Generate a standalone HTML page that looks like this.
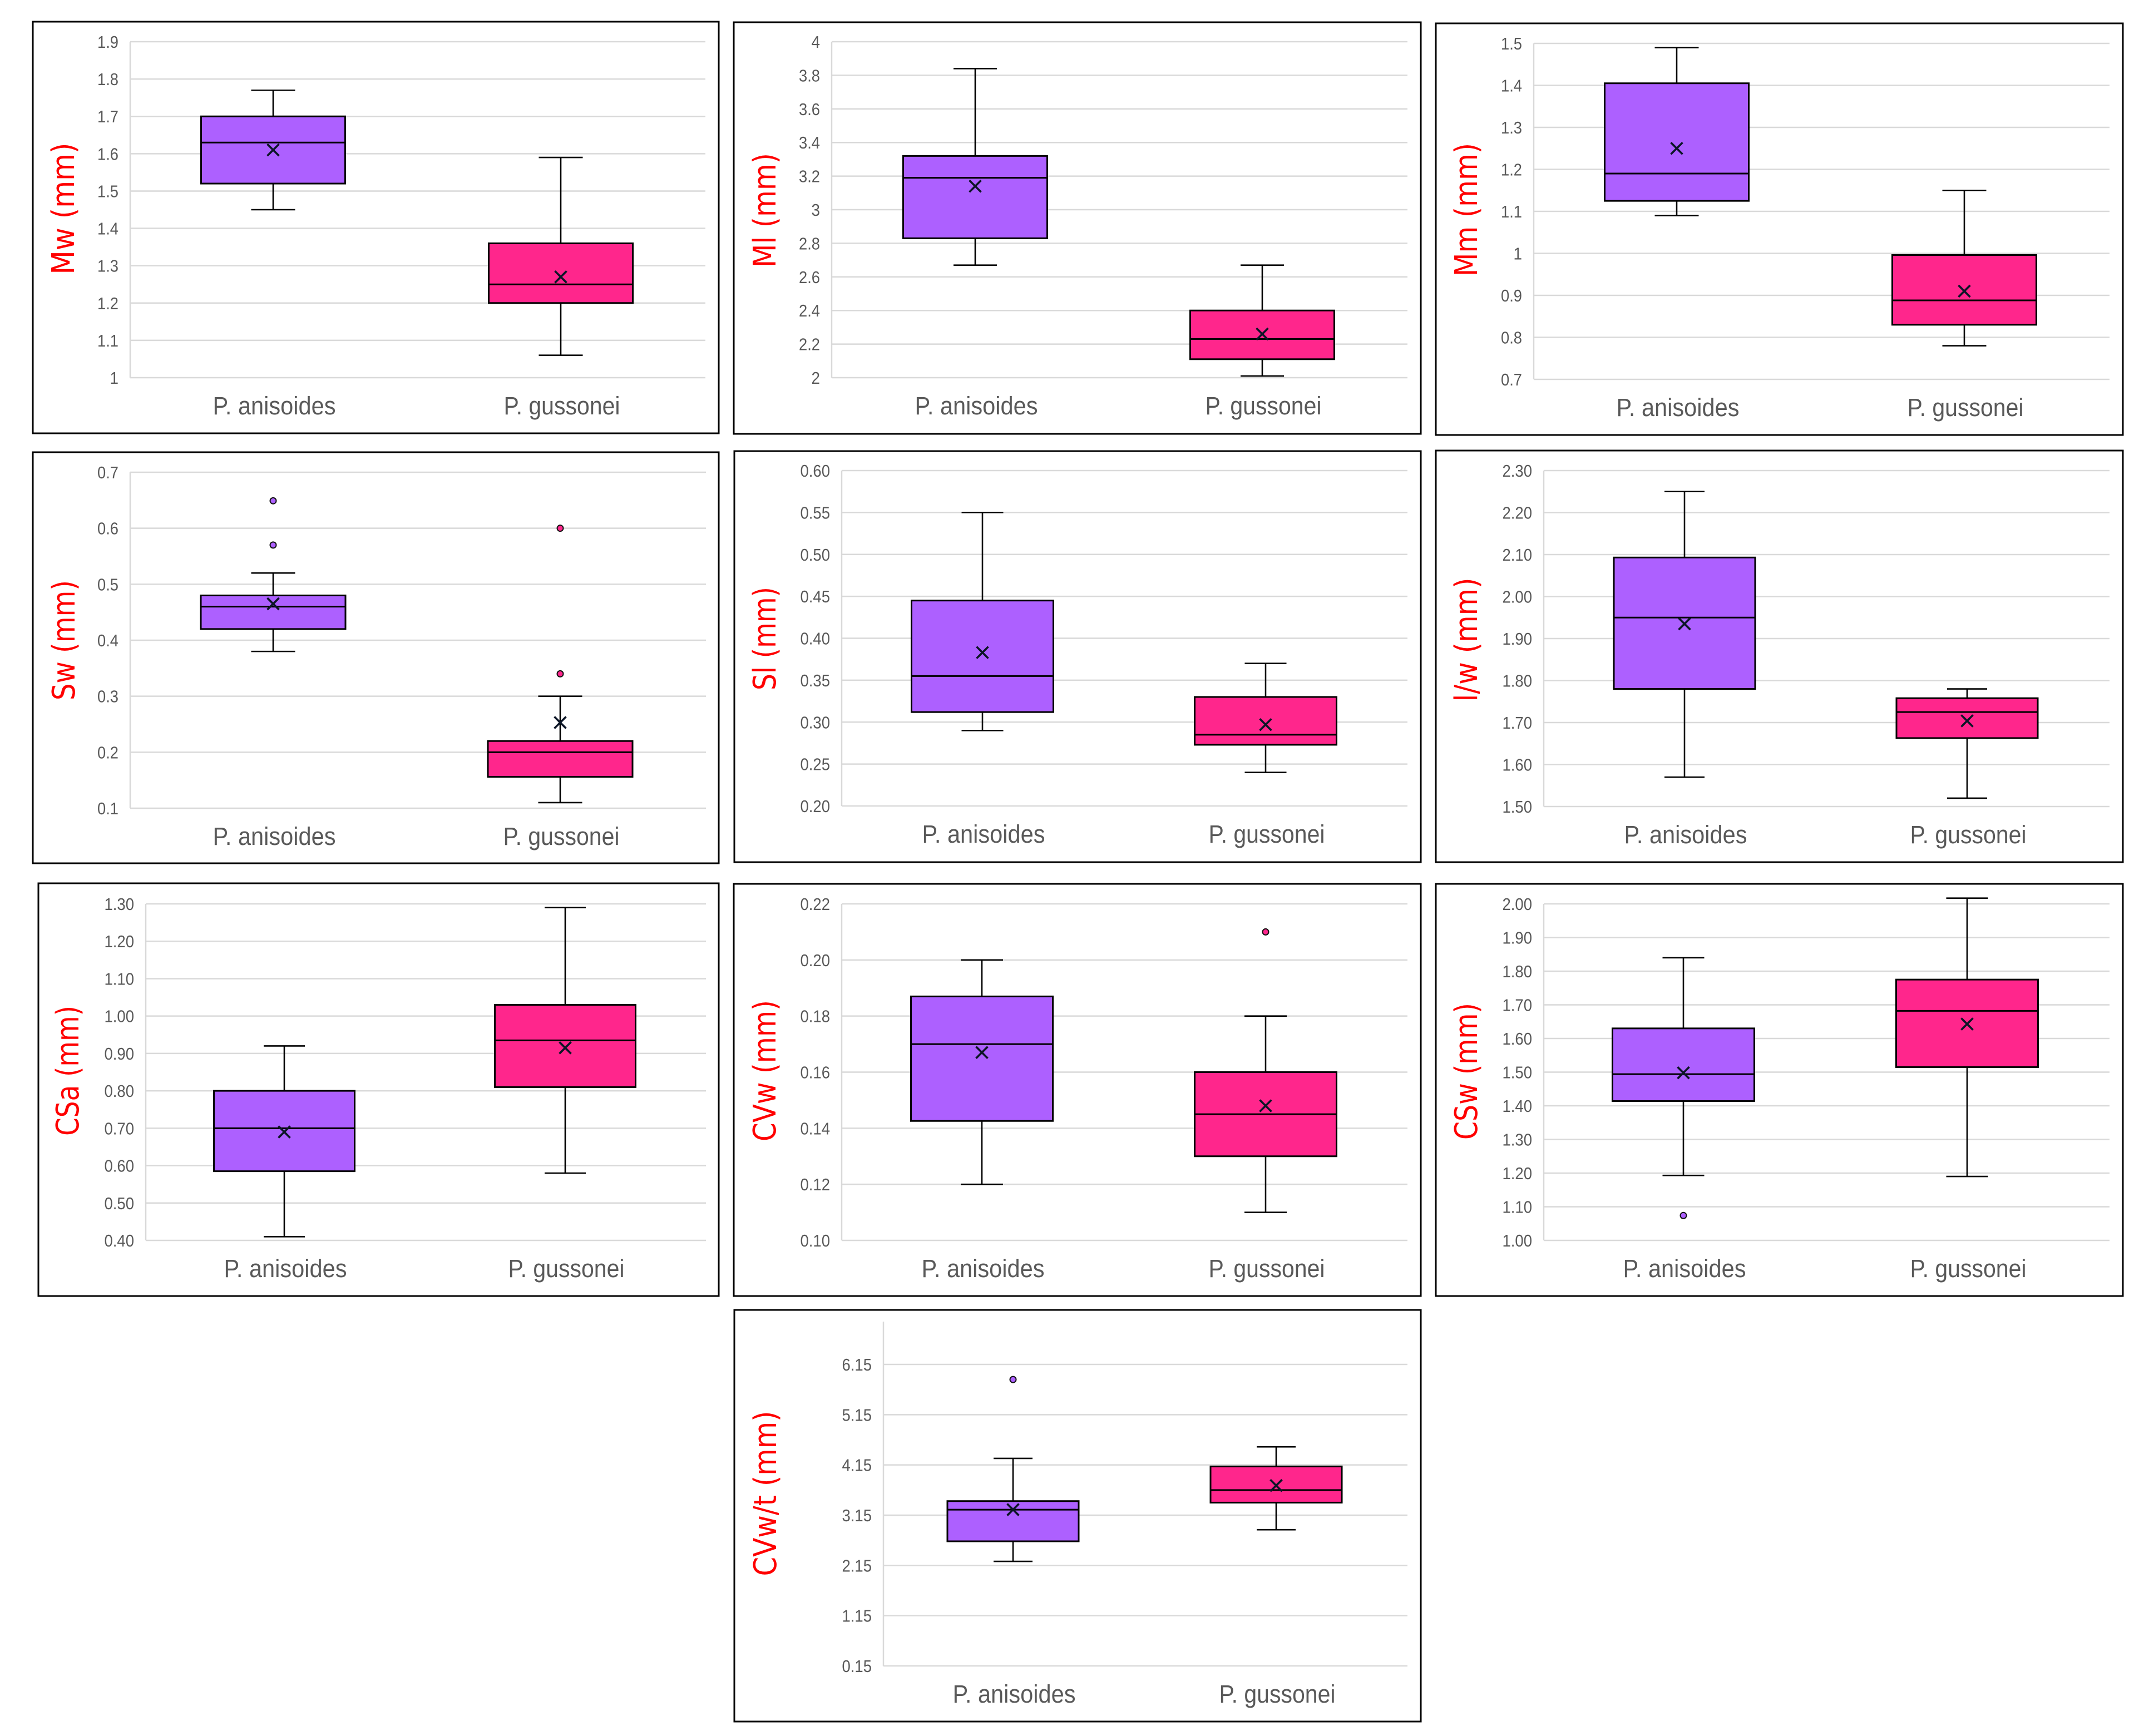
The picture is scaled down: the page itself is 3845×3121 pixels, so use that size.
<!DOCTYPE html>
<html lang="en">
<head>
<meta charset="utf-8">
<title>Box plots of P. anisoides and P. gussonei measurements</title>
<style>
html,body{margin:0;padding:0;background:#fff;}
svg{display:block;}
.tick{font-family:"Liberation Sans",sans-serif;font-size:31px;fill:#595959;text-anchor:end;}
.cat{font-family:"Liberation Sans",sans-serif;font-size:45px;fill:#595959;text-anchor:middle;}
.ytitle{font-family:"DejaVu Sans",sans-serif;font-size:56px;fill:#ff0000;text-anchor:middle;}
</style>
</head>
<body>
<svg id="figure" xmlns="http://www.w3.org/2000/svg" width="3845" height="3121" viewBox="0 0 3845 3121"></svg>
<script>
// Shared categories
const categories = ['P. anisoides', 'P. gussonei'];

// Each series reads: [min, q1, median, q3, max, mean]
const mwTicks = ['1', '1.1', '1.2', '1.3', '1.4', '1.5', '1.6', '1.7', '1.8', '1.9'];
const mwAnisoides = [1.45, 1.52, 1.63, 1.70, 1.77, 1.61];
const mwGussonei = [1.06, 1.20, 1.25, 1.36, 1.59, 1.27];
const mwOutliersAnisoides = [];
const mwOutliersGussonei = [];

const mlTicks = ['2', '2.2', '2.4', '2.6', '2.8', '3', '3.2', '3.4', '3.6', '3.8', '4'];
const mlAnisoides = [2.67, 2.83, 3.19, 3.32, 3.84, 3.14];
const mlGussonei = [2.01, 2.11, 2.23, 2.40, 2.67, 2.26];
const mlOutliersAnisoides = [];
const mlOutliersGussonei = [];

const mmTicks = ['0.7', '0.8', '0.9', '1', '1.1', '1.2', '1.3', '1.4', '1.5'];
const mmAnisoides = [1.09, 1.125, 1.19, 1.405, 1.49, 1.25];
const mmGussonei = [0.78, 0.83, 0.888, 0.996, 1.15, 0.91];
const mmOutliersAnisoides = [];
const mmOutliersGussonei = [];

const swTicks = ['0.1', '0.2', '0.3', '0.4', '0.5', '0.6', '0.7'];
const swAnisoides = [0.38, 0.42, 0.46, 0.48, 0.52, 0.465];
const swGussonei = [0.11, 0.156, 0.20, 0.22, 0.30, 0.253];
const swOutliersAnisoides = [0.649, 0.57];
const swOutliersGussonei = [0.60, 0.34];

const slTicks = ['0.20', '0.25', '0.30', '0.35', '0.40', '0.45', '0.50', '0.55', '0.60'];
const slAnisoides = [0.29, 0.312, 0.355, 0.445, 0.55, 0.383];
const slGussonei = [0.24, 0.273, 0.285, 0.33, 0.37, 0.297];
const slOutliersAnisoides = [];
const slOutliersGussonei = [];

const lwTicks = ['1.50', '1.60', '1.70', '1.80', '1.90', '2.00', '2.10', '2.20', '2.30'];
const lwAnisoides = [1.57, 1.78, 1.95, 2.093, 2.25, 1.935];
const lwGussonei = [1.52, 1.663, 1.725, 1.758, 1.78, 1.704];
const lwOutliersAnisoides = [];
const lwOutliersGussonei = [];

const csaTicks = ['0.40', '0.50', '0.60', '0.70', '0.80', '0.90', '1.00', '1.10', '1.20', '1.30'];
const csaAnisoides = [0.41, 0.585, 0.70, 0.80, 0.92, 0.69];
const csaGussonei = [0.58, 0.81, 0.935, 1.03, 1.29, 0.915];
const csaOutliersAnisoides = [];
const csaOutliersGussonei = [];

const cvwTicks = ['0.10', '0.12', '0.14', '0.16', '0.18', '0.20', '0.22'];
const cvwAnisoides = [0.12, 0.1426, 0.17, 0.187, 0.20, 0.167];
const cvwGussonei = [0.11, 0.13, 0.145, 0.16, 0.18, 0.148];
const cvwOutliersAnisoides = [];
const cvwOutliersGussonei = [0.21];

const cswTicks = ['1.00', '1.10', '1.20', '1.30', '1.40', '1.50', '1.60', '1.70', '1.80', '1.90', '2.00'];
const cswAnisoides = [1.193, 1.414, 1.494, 1.63, 1.84, 1.498];
const cswGussonei = [1.19, 1.515, 1.682, 1.775, 2.017, 1.643];
const cswOutliersAnisoides = [1.074];
const cswOutliersGussonei = [];

const cvwtTicks = ['0.15', '1.15', '2.15', '3.15', '4.15', '5.15', '6.15'];
const cvwtAnisoides = [2.23, 2.63, 3.26, 3.43, 4.28, 3.26];
const cvwtGussonei = [2.86, 3.40, 3.65, 4.12, 4.51, 3.74];
const cvwtOutliersAnisoides = [5.85];
const cvwtOutliersGussonei = [];

// Panel definitions: data references plus page layout
const panels = [
  {id:'mw', title:'Mw (mm)', ticks:mwTicks, series:[mwAnisoides, mwGussonei], outliers:[mwOutliersAnisoides, mwOutliersGussonei],
   frame:[59,39,1292,779], plot:[234,1268,75,679], axisTop:75, centers:[491,1008], boxW:259, capW:79, titleBox:[133,375,237]},
  {id:'ml', title:'Ml (mm)', ticks:mlTicks, series:[mlAnisoides, mlGussonei], outliers:[mlOutliersAnisoides, mlOutliersGussonei],
   frame:[1319,40,2554,780], plot:[1495,2530,75,679], axisTop:75, centers:[1753,2269], boxW:259, capW:78, titleBox:[1394,378,206]},
  {id:'mm', title:'Mm (mm)', ticks:mmTicks, series:[mmAnisoides, mmGussonei], outliers:[mmOutliersAnisoides, mmOutliersGussonei],
   frame:[2581,42,3816,782], plot:[2757,3792,78,682], axisTop:78, centers:[3014,3531], boxW:259, capW:79, titleBox:[2655,377,240]},
  {id:'sw', title:'Sw (mm)', ticks:swTicks, series:[swAnisoides, swGussonei], outliers:[swOutliersAnisoides, swOutliersGussonei],
   frame:[59,813,1292,1552], plot:[234,1269,849,1453], axisTop:849, centers:[491,1007], boxW:260, capW:79, titleBox:[134,1151,216]},
  {id:'sl', title:'Sl (mm)', ticks:slTicks, series:[slAnisoides, slGussonei], outliers:[slOutliersAnisoides, slOutliersGussonei],
   frame:[1320,811,2554,1550], plot:[1513,2530,846,1449], axisTop:846, centers:[1766,2275], boxW:255, capW:75, titleBox:[1394,1148,186]},
  {id:'lw', title:'l/w (mm)', ticks:lwTicks, series:[lwAnisoides, lwGussonei], outliers:[lwOutliersAnisoides, lwOutliersGussonei],
   frame:[2581,810,3816,1550], plot:[2775,3792,846,1450], axisTop:846, centers:[3028,3536], boxW:254, capW:72, titleBox:[2655,1150,223]},
  {id:'csa', title:'CSa (mm)', ticks:csaTicks, series:[csaAnisoides, csaGussonei], outliers:[csaOutliersAnisoides, csaOutliersGussonei],
   frame:[69,1588,1292,2330], plot:[262,1269,1625,2230], axisTop:1625, centers:[511,1016], boxW:253, capW:74, titleBox:[141,1925,234]},
  {id:'cvw', title:'CVw (mm)', ticks:cvwTicks, series:[cvwAnisoides, cvwGussonei], outliers:[cvwOutliersAnisoides, cvwOutliersGussonei],
   frame:[1319,1589,2554,2330], plot:[1513,2530,1625,2230], axisTop:1625, centers:[1765,2275], boxW:255, capW:76, titleBox:[1394,1925,254]},
  {id:'csw', title:'CSw (mm)', ticks:cswTicks, series:[cswAnisoides, cswGussonei], outliers:[cswOutliersAnisoides, cswOutliersGussonei],
   frame:[2581,1589,3816,2330], plot:[2775,3792,1625,2230], axisTop:1625, centers:[3026,3536], boxW:255, capW:75, titleBox:[2655,1926,246]},
  {id:'cvwt', title:'CVw/t (mm)', ticks:cvwtTicks, series:[cvwtAnisoides, cvwtGussonei], outliers:[cvwtOutliersAnisoides, cvwtOutliersGussonei],
   frame:[1320,2355,2554,3095], plot:[1588,2530,2453,2995], axisTop:2376, centers:[1821,2294], boxW:236, capW:70, titleBox:[1395,2685,297]}
];

const seriesFills = ['#ad60ff', '#ff268c'];
const categoryWidths = [221, 209];
const gridColor = '#d9d9d9';
const SVG_NS = 'http://www.w3.org/2000/svg';
const figure = document.getElementById('figure');

function make(tag, parent, attrs) {
  const el = document.createElementNS(SVG_NS, tag);
  for (const k in attrs) el.setAttribute(k, attrs[k]);
  parent.appendChild(el);
  return el;
}

function makeYScale(panel) {
  const t0 = parseFloat(panel.ticks[0]);
  const t1 = parseFloat(panel.ticks[panel.ticks.length - 1]);
  const top = panel.plot[2];
  const bottom = panel.plot[3];
  return function (v) { return bottom + (v - t0) / (t1 - t0) * (top - bottom); };
}

function tickLabelWidth(label) {
  const digits = label.replace('.', '').length;
  const dots = label.length - digits;
  return digits * 15.5 + dots * 7;
}

function drawPanel(panel) {
  const y = makeYScale(panel);
  const left = panel.plot[0];
  const right = panel.plot[1];
  const bottom = panel.plot[3];

  const g = make('g', figure, {});
  
  

  const frame = make('rect', g, {x:panel.frame[0], y:panel.frame[1], width:panel.frame[2]-panel.frame[0], height:panel.frame[3]-panel.frame[1], fill:'#fff', stroke:'#000', 'stroke-width':3});
  
  

  const axis = make('line', g, {x1:left, x2:left, y1:panel.axisTop, y2:bottom, stroke:gridColor, 'stroke-width':2.5});
  
  

  panel.ticks.forEach(function (label) {
    const v = parseFloat(label);
    const grid = make('line', g, {x1:left, x2:right, y1:y(v), y2:y(v), stroke:gridColor, 'stroke-width':2.5});
    
    
    const tick = make('text', g, {x:left-21, y:y(v)+11, class:'tick', textLength:tickLabelWidth(label), lengthAdjust:'spacingAndGlyphs'});
    
    
    tick.textContent = label;
  });

  const tb = panel.titleBox;
  const title = make('text', g, {x:0, y:0, class:'ytitle', transform:'translate(' + tb[0] + ' ' + tb[1] + ') rotate(-90)', textLength:tb[2], lengthAdjust:'spacingAndGlyphs'});
  
  
  title.textContent = panel.title;

  categories.forEach(function (cat, i) {
    const cx = panel.centers[i];
    const s = panel.series[i];
    const halfBox = panel.boxW / 2;
    const halfCap = panel.capW / 2;

    const upper = make('line', g, {x1:cx, x2:cx, y1:y(s[4]), y2:y(s[3]), stroke:'#000', 'stroke-width':2.6});
    
    

    const lower = make('line', g, {x1:cx, x2:cx, y1:y(s[1]), y2:y(s[0]), stroke:'#000', 'stroke-width':2.6});
    
    

    const capTop = make('line', g, {x1:cx-halfCap, x2:cx+halfCap, y1:y(s[4]), y2:y(s[4]), stroke:'#000', 'stroke-width':2.6});
    
    

    const capBottom = make('line', g, {x1:cx-halfCap, x2:cx+halfCap, y1:y(s[0]), y2:y(s[0]), stroke:'#000', 'stroke-width':2.6});
    
    

    const box = make('rect', g, {x:cx-halfBox, y:y(s[3]), width:panel.boxW, height:y(s[1])-y(s[3]), fill:seriesFills[i], stroke:'#000', 'stroke-width':3});
    
    

    const med = make('line', g, {x1:cx-halfBox, x2:cx+halfBox, y1:y(s[2]), y2:y(s[2]), stroke:'#000', 'stroke-width':3});
    
    

    const my = y(s[5]);
    const mean = make('path', g, {d:'M' + (cx-10.5) + ' ' + (my-10.5) + 'L' + (cx+10.5) + ' ' + (my+10.5) + 'M' + (cx+10.5) + ' ' + (my-10.5) + 'L' + (cx-10.5) + ' ' + (my+10.5), fill:'none', stroke:'#0b1526', 'stroke-width':3.6});
    
    

    panel.outliers[i].forEach(function (v) {
      const dot = make('circle', g, {cx:cx, cy:y(v), r:5.5, fill:seriesFills[i], stroke:'#111', 'stroke-width':2});
      
      
    });

    const lab = make('text', g, {x:cx+2, y:bottom+66, class:'cat', textLength:categoryWidths[i], lengthAdjust:'spacingAndGlyphs'});
    
    
    lab.textContent = cat;
  });
}

panels.forEach(drawPanel);
</script>
</body>
</html>
